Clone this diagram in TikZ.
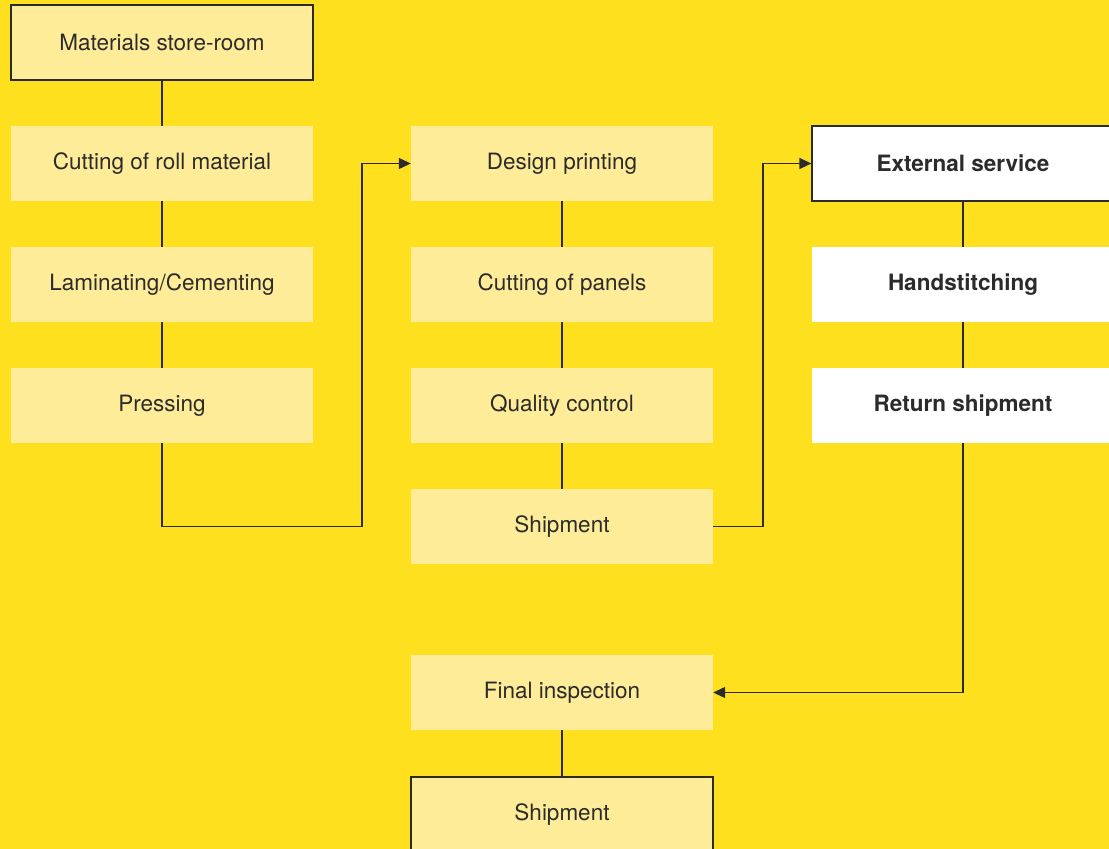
\documentclass[tikz,border=0pt]{standalone}
\usepackage{fontspec}
\setmainfont{TeX Gyre Heros}
\usetikzlibrary{arrows.meta}
\definecolor{bgyellow}{HTML}{FFE01E}
\definecolor{boxyellow}{HTML}{FFEC99}
\definecolor{inkgrey}{HTML}{2B2B2B}
\tikzset{
  procbox/.style={rectangle, fill=boxyellow, minimum width=302pt, minimum height=75pt,
    inner sep=0pt, text=inkgrey, font=\fontsize{22.5}{26}\selectfont},
  framed/.style={draw=inkgrey, line width=1.2pt},
  extbox/.style={procbox, fill=white, font=\fontsize{22.5}{26}\selectfont\bfseries},
  conn/.style={draw=inkgrey, line width=1.2pt},
  arr/.style={conn, -{Triangle[length=12pt,width=11pt]}}
}
\begin{document}
\begin{tikzpicture}[x=1pt,y=-1pt]
\fill[bgyellow] (0,0) rectangle (1109,849);
\useasboundingbox (0,0) rectangle (1109,849);
% column 1
\node[procbox, framed] (store) at (162,42.5) {Materials store-room};
\node[procbox] (roll) at (162,163.5) {Cutting of roll material};
\node[procbox] (lam) at (162,284.5) {Laminating/Cementing};
\node[procbox] (press) at (162,405.5) {Pressing};
% column 2
\node[procbox] (design) at (562,163.5) {Design printing};
\node[procbox] (panels) at (562,284.5) {Cutting of panels};
\node[procbox] (qc) at (562,405.5) {Quality control};
\node[procbox] (ship1) at (562,526.5) {Shipment};
\node[procbox] (final) at (562,692.5) {Final inspection};
\node[procbox, framed] (ship2) at (562,814.5) {Shipment};
% column 3
\node[extbox, framed] (ext) at (963,163.5) {External service};
\node[extbox] (hand) at (963,284.5) {Handstitching};
\node[extbox] (ret) at (963,405.5) {Return shipment};
% connectors
\coordinate (c1) at (362,526.5);
\coordinate (c2) at (763,526.5);
\draw[conn] (store.south) -- (roll.north);
\draw[conn] (roll.south) -- (lam.north);
\draw[conn] (lam.south) -- (press.north);
\draw[conn] (design.south) -- (panels.north);
\draw[conn] (panels.south) -- (qc.north);
\draw[conn] (qc.south) -- (ship1.north);
\draw[conn] (final.south) -- (ship2.north);
\draw[conn] (ext.south) -- (hand.north);
\draw[conn] (hand.south) -- (ret.north);
\draw[arr] (press.south) |- (c1) |- (design.west);
\draw[arr] (ship1.east) -- (c2) |- (ext.west);
\draw[arr] (ret.south) |- (final.east);
\end{tikzpicture}
\end{document}
